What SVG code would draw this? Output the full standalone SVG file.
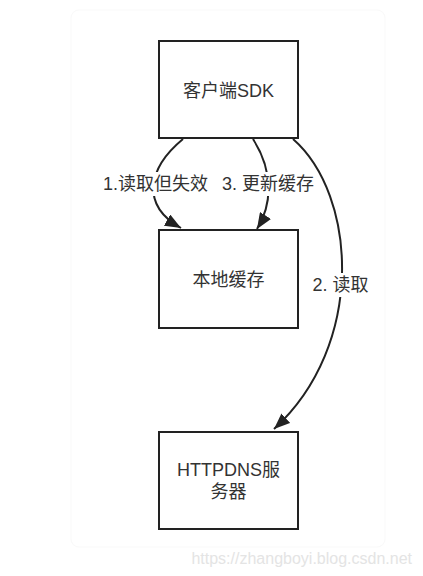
<svg xmlns="http://www.w3.org/2000/svg" width="423" height="576" viewBox="0 0 423 576">
<defs>
<style>
.box{fill:#fff;stroke:#222;stroke-width:2}
.t,.lbl{font-family:"Liberation Sans","Noto Sans CJK SC",sans-serif;font-size:18px;fill:#333;text-anchor:middle;dominant-baseline:central}
.e{fill:none;stroke:#222;stroke-width:2}
</style>
<marker id="ah" markerUnits="userSpaceOnUse" markerWidth="17" markerHeight="13" refX="16" refY="6.5" orient="auto">
<path d="M0,0 L16,6.5 L0,13 Z" fill="#222"/>
</marker>
</defs>
<rect width="423" height="576" fill="#fff"/>
<rect x="71" y="10" width="314" height="537" rx="8" fill="none" stroke="#f9f9f9" stroke-width="1"/>
<g id="connectors">
<path class="e" d="M183,139 C148,168 140,205 181,228" marker-end="url(#ah)"/>
<path class="e" d="M253,139 C274,172 272,205 257,229" marker-end="url(#ah)"/>
<path class="e" d="M293,139 C357,195 366,345 274,429" marker-end="url(#ah)"/>
<rect x="101" y="172" width="110" height="24" fill="#fff"/>
<rect x="220" y="172" width="97" height="24" fill="#fff"/>
<rect x="311" y="273" width="60" height="24" fill="#fff"/>
<text class="lbl" x="155.5" y="184">1.读取但失效</text>
<text class="lbl" x="268" y="184">3. 更新缓存</text>
<text class="lbl" x="340.5" y="285">2. 读取</text>
</g>
<g id="sdk">
<rect class="box" x="159" y="41" width="139" height="97"/>
<text class="t" x="228.5" y="91">客户端SDK</text>
</g>
<g id="cache">
<rect class="box" x="159" y="230" width="139" height="98"/>
<text class="t" x="228.5" y="280">本地缓存</text>
</g>
<g id="httpdns">
<rect class="box" x="159" y="432" width="139" height="97"/>
<text class="t" x="228.5" y="470">HTTPDNS服</text>
<text class="t" x="228.5" y="492">务器</text>
</g>
<text x="412" y="558" font-family="Liberation Sans,sans-serif" font-size="16" fill="#e4e4e4" text-anchor="end" dominant-baseline="central">https://zhangboyi.blog.csdn.net</text>
</svg>
